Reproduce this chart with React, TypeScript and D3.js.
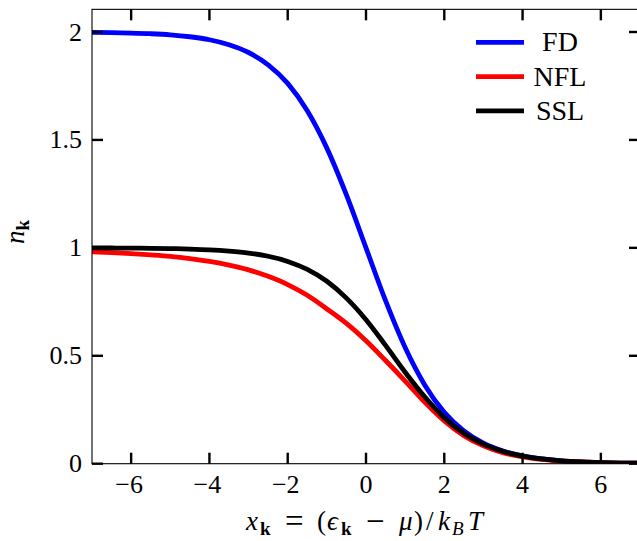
import React from "react";
import * as d3 from "d3";

const xs = [-7, -6.5, -6, -5.5, -5, -4.5, -4, -3.5, -3, -2.5, -2, -1.5, -1, -0.5, 0, 0.5, 1, 1.5, 2, 2.5, 3, 3.5, 4, 4.5, 5, 5.5, 6, 6.5, 7];
const fdValues = [1.998, 1.997, 1.995, 1.992, 1.987, 1.978, 1.964, 1.941, 1.905, 1.848, 1.762, 1.635, 1.462, 1.245, 1.0, 0.755, 0.538, 0.365, 0.238, 0.152, 0.095, 0.059, 0.036, 0.022, 0.013, 0.008, 0.005, 0.003, 0.002];
const nflValues = [0.982, 0.978, 0.973, 0.967, 0.96, 0.95, 0.937, 0.92, 0.898, 0.868, 0.83, 0.78, 0.717, 0.65, 0.57, 0.478, 0.383, 0.285, 0.198, 0.13, 0.083, 0.051, 0.032, 0.02, 0.012, 0.008, 0.005, 0.003, 0.002];
const sslValues = [0.9995, 0.9992, 0.9988, 0.998, 0.9966, 0.9945, 0.991, 0.985, 0.976, 0.961, 0.937, 0.9, 0.845, 0.767, 0.667, 0.548, 0.424, 0.31, 0.213, 0.141, 0.091, 0.057, 0.035, 0.022, 0.013, 0.008, 0.005, 0.003, 0.002];

const seriesNames = ["FD", "NFL", "SSL"];
const seriesColors = ["#0000ff", "#ff0000", "#000000"];
const xTicks = [-6, -4, -2, 0, 2, 4, 6];
const yTicks = [0, 0.5, 1, 1.5, 2];

const W = 637;
const H = 541;
const FONT = "'Liberation Serif', 'Times New Roman', serif";

export default function App() {
  const x = d3.scaleLinear().domain([-7, 7]).range([92, 640]);
  const y = d3.scaleLinear().domain([0, 2]).range([463.7, 32]);
  const top = y(2.105);
  const bottom = y(0);
  const left = x(-7);
  const right = x(7);

  const allSeries = [fdValues, nflValues, sslValues];
  const line = d3
    .line<number>()
    .x((_, i) => x(xs[i]))
    .y((v) => y(v))
    .curve(d3.curveMonotoneX);

  const fmt = (v: number) => (v < 0 ? "\u2212" + Math.abs(v) : String(v));
  const tickLen = 11;
  const tickW = 2.4;
  const main = 27;
  const sub = 19;
  const op = 33;

  return (
    <svg
      width={W}
      height={H}
      style={{ position: "absolute", left: 0, top: 0, background: "#fff" }}
      fontFamily={FONT}
    >
      <defs>
        <clipPath id="plotclip">
          <rect x={left} y={top} width={right - left} height={bottom - top} />
        </clipPath>
      </defs>

      <g clipPath="url(#plotclip)">
        {allSeries.map((vals, k) => (
          <path
            key={seriesNames[k]}
            d={line(vals) || ""}
            fill="none"
            stroke={seriesColors[k]}
            strokeWidth={4.8}
            strokeLinejoin="round"
          />
        ))}
      </g>

      {/* frame */}
      <rect x={left} y={top} width={right - left} height={bottom - top} fill="none" stroke="#000" strokeWidth={1.1} />

      {/* x ticks */}
      {xTicks.map((t) => (
        <g key={"xt" + t}>
          <line x1={x(t)} x2={x(t)} y1={bottom} y2={bottom - tickLen} stroke="#000" strokeWidth={tickW} />
          <line x1={x(t)} x2={x(t)} y1={top} y2={top + tickLen} stroke="#000" strokeWidth={tickW} />
          <text x={x(t) - (t < 0 ? 2 : 0)} y={493} textAnchor="middle" fontSize={26} fill="#000">
            {fmt(t)}
          </text>
        </g>
      ))}

      {/* y ticks */}
      {yTicks.map((t) => (
        <g key={"yt" + t}>
          <line x1={left} x2={left + tickLen} y1={y(t)} y2={y(t)} stroke="#000" strokeWidth={tickW} />
          <line x1={right} x2={right - tickLen} y1={y(t)} y2={y(t)} stroke="#000" strokeWidth={tickW} />
          <text x={82} y={y(t) + 8.5} textAnchor="end" fontSize={26} fill="#000">
            {fmt(t)}
          </text>
        </g>
      ))}

      {/* x axis title */}
      <text y={530} fontSize={main} fill="#000">
        <tspan x={246} fontStyle="italic">x</tspan>
        <tspan x={260} fontWeight="bold" fontSize={sub} dy={5}>k</tspan>
        <tspan x={285} dy={-3} fontSize={op}>=</tspan>
        <tspan x={317} dy={-2}>(</tspan>
        <tspan x={327} fontStyle="italic">ϵ</tspan>
        <tspan x={341} fontWeight="bold" fontSize={sub} dy={5}>k</tspan>
        <tspan x={366} dy={-3} fontSize={op}>−</tspan>
        <tspan x={399} dy={-2} fontStyle="italic">μ</tspan>
        <tspan x={414}>)</tspan>
        <tspan x={426}>/</tspan>
        <tspan x={438} fontStyle="italic">k</tspan>
        <tspan x={452} fontStyle="italic" fontSize={sub} dy={5}>B</tspan>
        <tspan x={468} fontStyle="italic" dy={-5}>T</tspan>
      </text>

      {/* y axis title */}
      <text transform={`translate(24,232) rotate(-90)`} textAnchor="middle" fontSize={main} fill="#000">
        <tspan fontStyle="italic">n</tspan>
        <tspan fontWeight="bold" fontSize={sub} dy={5}>k</tspan>
      </text>

      {/* legend */}
      {seriesNames.map((name, k) => {
        const ly = 42.3 + k * 34.3;
        return (
          <g key={"lg" + name}>
            <line x1={476} x2={524} y1={ly} y2={ly} stroke={seriesColors[k]} strokeWidth={4.8} />
            <text x={560} y={ly + 9} textAnchor="middle" fontSize={28} fill="#000">
              {name}
            </text>
          </g>
        );
      })}
    </svg>
  );
}
